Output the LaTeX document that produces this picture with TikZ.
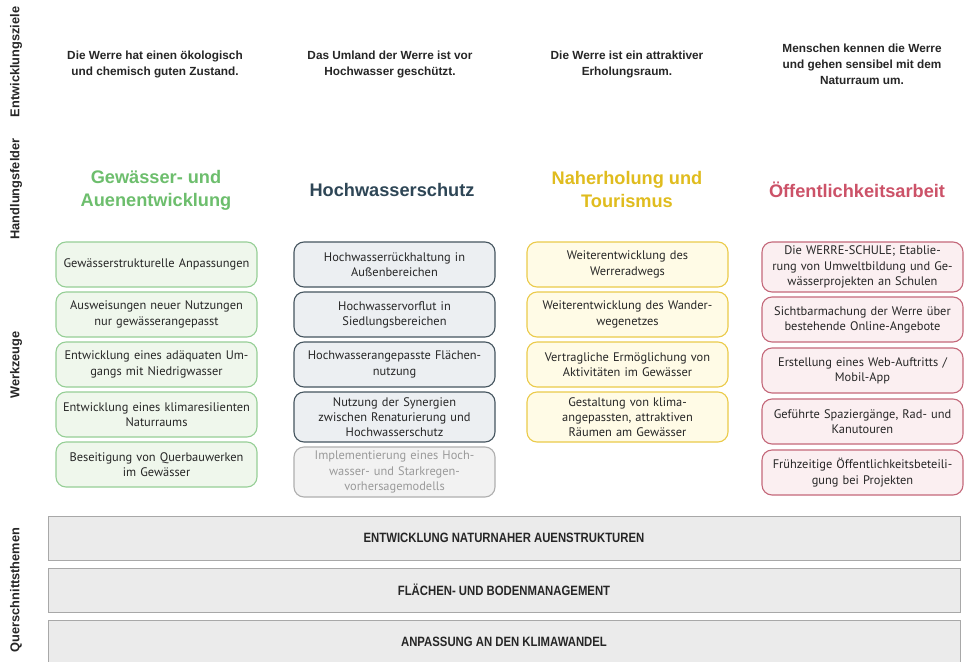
\documentclass[tikz,border=0pt]{standalone}
\usepackage{fontspec}
\setmainfont{Liberation Sans}
\newfontfamily\boxfont{PT Sans}
\newfontfamily\headfont{Liberation Sans}
\newfontfamily\barfont[FakeStretch=0.84]{Liberation Sans}

\definecolor{gtitle}{HTML}{6DBE6D}
\definecolor{gline}{HTML}{96CF96}
\definecolor{gfill}{HTML}{EFF7EC}
\definecolor{btitle}{HTML}{2E4656}
\definecolor{bline}{HTML}{45555F}
\definecolor{bfill}{HTML}{ECEFF2}
\definecolor{ytitle}{HTML}{E0BC1E}
\definecolor{yline}{HTML}{EBCB4A}
\definecolor{yfill}{HTML}{FFFBE6}
\definecolor{rtitle}{HTML}{CC5268}
\definecolor{rline}{HTML}{C4687A}
\definecolor{rfill}{HTML}{FBEFF1}
\definecolor{qline}{HTML}{AFAFAF}
\definecolor{qfill}{HTML}{F2F2F2}
\definecolor{qtext}{HTML}{9A9A9A}
\definecolor{barfill}{HTML}{EBEBEB}
\definecolor{barline}{HTML}{A8A8A8}
\definecolor{ink}{HTML}{262626}

\tikzset{
  rowlabel/.style={rotate=90, font=\headfont\bfseries\fontsize{12.8}{14}\selectfont, text=ink},
  goal/.style={align=center, font=\headfont\bfseries\fontsize{11.8}{16}\selectfont, text=ink},
  field/.style={align=center, font=\headfont\bfseries\fontsize{18.2}{23}\selectfont},
  tool/.style={draw, line width=1.1pt, rounded corners=10pt, minimum width=201pt,
    text width=200pt, align=center, inner sep=0pt, text=ink,
    font=\boxfont\fontsize{12.4}{15.2}\selectfont},
  gtool/.style={tool, draw=gline, fill=gfill},
  btool/.style={tool, draw=bline, fill=bfill},
  qtool/.style={tool, draw=qline, fill=qfill, text=qtext},
  ytool/.style={tool, draw=yline, fill=yfill},
  rtool/.style={tool, draw=rline, fill=rfill},
  theme/.style={draw=barline, fill=barfill, line width=1pt, minimum width=912pt,
    minimum height=44pt, inner sep=0pt, text=ink,
    font=\barfont\bfseries\fontsize{13.5}{15}\selectfont},
}

\begin{document}
\begin{tikzpicture}[x=1pt,y=-1pt]
\clip (0,0) rectangle (971,661);
\fill[white] (0,0) rectangle (971,661);

% row labels
\node[rowlabel] (lz) at (16,62) {Entwicklungsziele};
\node[rowlabel] (lh) at (16,189) {Handlungsfelder};
\node[rowlabel] (lw) at (16,365) {Werkzeuge};
\node[rowlabel] (lq) at (16,590) {Querschnittsthemen};

% goals
\node[goal] (z1) at (155,64) {Die Werre hat einen ökologisch\\und chemisch guten Zustand.};
\node[goal] (z2) at (390,64) {Das Umland der Werre ist vor\\Hochwasser geschützt.};
\node[goal] (z3) at (627,64) {Die Werre ist ein attraktiver\\Erholungsraum.};
\node[goal] (z4) at (862,64) {Menschen kennen die Werre\\und gehen sensibel mit dem\\Naturraum um.};

% fields of action
\node[field, text=gtitle] (h1) at (156,190) {Gewässer- und\\Auenentwicklung};
\node[field, text=btitle] (h2) at (392,190) {Hochwasserschutz};
\node[field, text=ytitle] (h3) at (627,189) {Naherholung und\\Tourismus};
\node[field, text=rtitle] (h4) at (857,190) {Öffentlichkeitsarbeit};

% tools: water and floodplain development
\node[gtool, minimum height=45pt] (g1) at (156.5,264.5) {Gewässerstrukturelle Anpassungen};
\node[gtool, minimum height=45pt] (g2) at (156.5,314.5) {Ausweisungen neuer Nutzungen\\nur gewässerangepasst};
\node[gtool, minimum height=45pt] (g3) at (156.5,364.5) {Entwicklung eines adäquaten Um-\\gangs mit Niedrigwasser};
\node[gtool, minimum height=45pt] (g4) at (156.5,414.5) {Entwicklung eines klimaresilienten\\Naturraums};
\node[gtool, minimum height=45pt] (g5) at (156.5,464.5) {Beseitigung von Querbauwerken\\im Gewässer};

% tools: flood protection
\node[btool, minimum height=45pt] (b1) at (394.5,264.5) {Hochwasserrückhaltung in\\Außenbereichen};
\node[btool, minimum height=45pt] (b2) at (394.5,314.5) {Hochwasservorflut in\\Siedlungsbereichen};
\node[btool, minimum height=45pt] (b3) at (394.5,364.5) {Hochwasserangepasste Flächen-\\nutzung};
\node[btool, minimum height=50pt] (b4) at (394.5,417) {Nutzung der Synergien\\zwischen Renaturierung und\\Hochwasserschutz};
\node[qtool, minimum height=50pt] (b5) at (394.5,472) {Implementierung eines Hoch-\\wasser- und Starkregen-\\vorhersagemodells};

% tools: recreation and tourism
\node[ytool, minimum height=45pt] (y1) at (627.5,264.5) {Weiterentwicklung des\\Werreradwegs};
\node[ytool, minimum height=45pt] (y2) at (627.5,314.5) {Weiterentwicklung des Wander-\\wegenetzes};
\node[ytool, minimum height=45pt] (y3) at (627.5,364.5) {Vertragliche Ermöglichung von\\Aktivitäten im Gewässer};
\node[ytool, minimum height=50pt] (y4) at (627.5,417) {Gestaltung von klima-\\angepassten, attraktiven\\Räumen am Gewässer};

% tools: public relations
\node[rtool, minimum height=50pt] (r1) at (862.5,267) {Die WERRE-SCHULE; Etablie-\\rung von Umweltbildung und Ge-\\wässerprojekten an Schulen};
\node[rtool, minimum height=45pt] (r2) at (862.5,319.5) {Sichtbarmachung der Werre über\\bestehende Online-Angebote};
\node[rtool, minimum height=45pt] (r3) at (862.5,370.5) {Erstellung eines Web-Auftritts /\\Mobil-App};
\node[rtool, minimum height=45pt] (r4) at (862.5,421.5) {Geführte Spaziergänge, Rad- und\\Kanutouren};
\node[rtool, minimum height=45pt] (r5) at (862.5,472.5) {Frühzeitige Öffentlichkeitsbeteili-\\gung bei Projekten};

% cross-cutting themes
\node[theme] (q1) at (504,538) {ENTWICKLUNG NATURNAHER AUENSTRUKTUREN};
\node[theme] (q2) at (504,590) {FLÄCHEN- UND BODENMANAGEMENT};
\node[theme] (q3) at (504,642) {ANPASSUNG AN DEN KLIMAWANDEL};
\end{tikzpicture}
\end{document}
